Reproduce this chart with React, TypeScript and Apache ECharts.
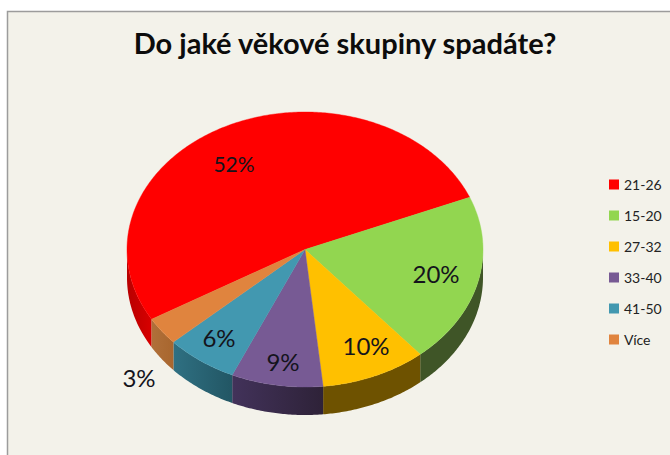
import React, { useEffect, useRef } from "react";
import * as echarts from "echarts";

// Age groups and their share of respondents, in percent, clockwise.
const categories = ["21-26", "15-20", "27-32", "33-40", "41-50", "Více"];
const shares = [52, 20, 10, 9, 6, 3];
const chartTitle = "Do jaké věkové skupiny spadáte?";

// Drawing styles for each age group.
const topColors = ["#ff0000", "#92d650", "#ffc000", "#775a94", "#4298b0", "#e0843e"];
const wallGradients = [
  ["#b80000", "#d80000"],
  ["#3f5527", "#3f5527"],
  ["#6e5200", "#6e5200"],
  ["#42325a", "#2e2238"],
  ["#2f7082", "#225664"],
  ["#b0703a", "#a8662e"],
];

// Geometry of the tilted disc.
const CX = 305;
const CY = 249.5;
const RX = 178;
const RY = 137.5;
const DEPTH = 28;
const START_DEG = 240.5;

// Where each percentage sits, in canvas pixels, and how large it is set.
const labelAnchors = [
  [234, 163],
  [436, 273],
  [366, 345],
  [283, 361],
  [219, 337],
  [139, 377],
];
const labelSizes = [21, 24, 24, 24, 24, 24];

const FONT = "Lato";
const total = shares.reduce((a, b) => a + b, 0);

// The near edge of the disc is seen slightly foreshortened, which pulls the
// slice boundaries at the lower left towards the bottom of the ellipse.
function foreshorten(deg: number): number {
  const d = ((deg % 360) + 360) % 360;
  return deg - 4 * Math.exp(-(((d - 205) / 30) ** 2));
}

// Point on the rim; the angle runs clockwise from twelve o'clock.
function rim(deg: number, drop = 0): number[] {
  const r = (foreshorten(deg) * Math.PI) / 180;
  return [CX + RX * Math.sin(r), CY - RY * Math.cos(r) + drop];
}

function arcPoints(from: number, to: number, drop = 0): number[][] {
  const steps = Math.max(2, Math.ceil(Math.abs(to - from) * 1.5));
  const pts: number[][] = [];
  for (let k = 0; k <= steps; k++) pts.push(rim(from + ((to - from) * k) / steps, drop));
  return pts;
}

function sliceRange(index: number, value: number): [number, number] {
  const before = shares.slice(0, index).reduce((a, b) => a + b, 0);
  const a = START_DEG + (before / total) * 360;
  return [a, a + (value / total) * 360];
}

// Front wall pieces: the part of a slice that lies between 90 and 270 degrees.
function wallRanges(a: number, b: number): number[][] {
  const out: number[][] = [];
  for (const shift of [0, 360]) {
    const lo = Math.max(a, 90 + shift);
    const hi = Math.min(b, 270 + shift);
    if (hi > lo) out.push([lo, hi]);
  }
  return out;
}

function renderSlice(index: number) {
  return (_params: any, api: any) => {
    const [a, b] = sliceRange(index, api.value(0));
    const children: any[] = [];
    for (const [lo, hi] of wallRanges(a, b)) {
      const stops = wallGradients[index];
      children.push({
        type: "polygon",
        shape: { points: [...arcPoints(lo, hi), ...arcPoints(hi, lo, DEPTH)] },
        style: {
          fill: new echarts.graphic.LinearGradient(0, 0, 1, 0, [
            { offset: 0, color: stops[0] },
            { offset: 1, color: stops[1] },
          ]),
        },
      });
    }
    children.push({
      type: "polygon",
      shape: { points: [[CX, CY], ...arcPoints(a, b)] },
      style: { fill: topColors[index], stroke: topColors[index], lineWidth: 0.4 },
    });
    return { type: "group", children };
  };
}

// Percent labels go in their own series so no later slice can cover them.
function renderLabel(_params: any, api: any) {
  const i = api.value(0);
  return {
    type: "text",
    x: labelAnchors[i][0],
    y: labelAnchors[i][1],
    style: {
      text: `${api.value(1)}%`,
      fill: "#14141c",
      font: `400 ${labelSizes[i]}px ${FONT}`,
      align: "center",
      verticalAlign: "middle",
    },
  };
}

export default function App() {
  const ref = useRef<HTMLDivElement>(null);

  useEffect(() => {
    document.body.style.margin = "0";
    const chart = echarts.init(ref.current!, undefined, { renderer: "svg" });
    chart.setOption({
      animation: false,
      backgroundColor: "#ffffff",
      color: topColors,
      title: {
        text: chartTitle,
        left: 340,
        top: 23,
        textAlign: "center",
        textStyle: { fontFamily: FONT, fontWeight: 700, fontSize: 29, color: "#0c0c0c" },
      },
      legend: {
        orient: "vertical",
        left: 609,
        top: 176,
        padding: 0,
        itemWidth: 10,
        itemHeight: 10,
        itemGap: 14,
        icon: "rect",
        selectedMode: false,
        data: categories,
        textStyle: {
          fontFamily: FONT,
          fontSize: 14,
          color: "#222222",
          lineHeight: 17,
        },
      },
      graphic: [
        {
          type: "rect",
          z: -1,
          silent: true,
          shape: { x: 7.5, y: 11.5, width: 680, height: 460 },
          style: { fill: "#f3f2ea", stroke: "#9c9c9c", lineWidth: 1.5 },
        },
      ],
      series: [
        ...categories.map((name, i) => ({
          type: "custom",
          name,
          coordinateSystem: "none",
          silent: true,
          itemStyle: { color: topColors[i] },
          data: [[shares[i]]],
          renderItem: renderSlice(i),
        })),
        {
          type: "custom",
          name: "labels",
          coordinateSystem: "none",
          silent: true,
          z: 5,
          data: shares.map((v, i) => [i, v]),
          renderItem: renderLabel,
        },
      ],
    });
    return () => chart.dispose();
  }, []);

  return (
    <div
      ref={ref}
      style={{ position: "absolute", left: 0, top: 0, width: 670, height: 455, overflow: "hidden" }}
    />
  );
}
